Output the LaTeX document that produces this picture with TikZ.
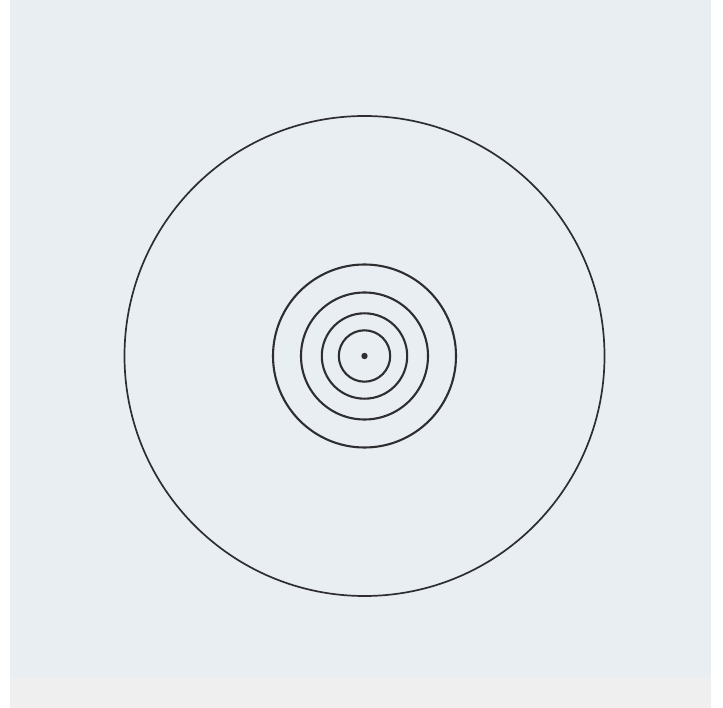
\documentclass[tikz,border=0pt]{standalone}
\definecolor{paper}{HTML}{E9EEF3}
\definecolor{strip}{HTML}{EFEFEF}
\definecolor{ink}{HTML}{2E2E30}
\tikzset{ring/.style={draw=ink, line width=2.1pt}, bigring/.style={draw=ink, line width=1.7pt}}
\begin{document}
\begin{tikzpicture}[x=1pt,y=-1pt]
\useasboundingbox (0,0) rectangle (723,708);
\fill[white] (0,0) rectangle (723,708);
\fill[paper] (10,0) rectangle (711,678);
\fill[strip] (10,678) rectangle (711,708);
\coordinate (c) at (364.5,356);
\draw[bigring] (c) circle[radius=240];
\draw[ring] (c) circle[radius=91.5];
\draw[ring] (c) circle[radius=63.5];
\draw[ring] (c) circle[radius=42.7];
\draw[ring] (c) circle[radius=25.7];
\fill[ink] (c) circle[radius=3.2];
\end{tikzpicture}
\end{document}
